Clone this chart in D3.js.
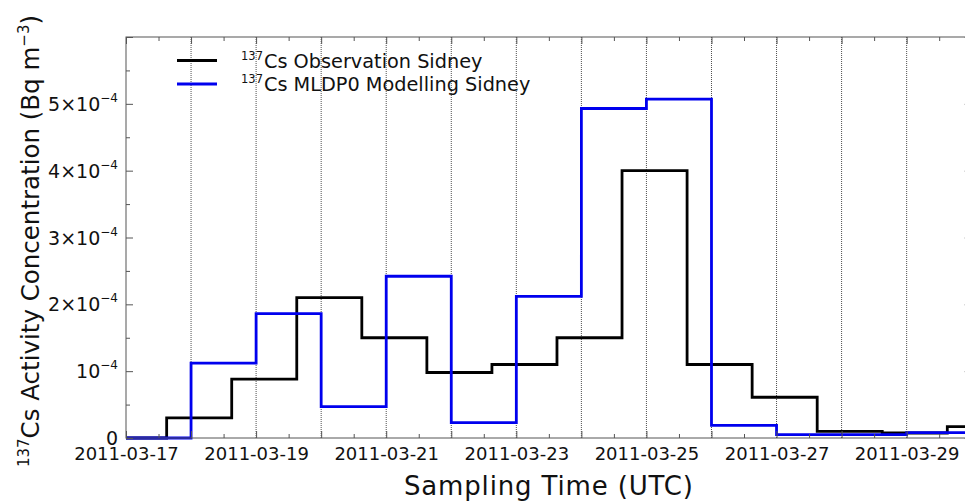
<!DOCTYPE html>
<html>
<head>
<meta charset="utf-8">
<script src="https://cdn.jsdelivr.net/npm/d3@7"></script>
<style>
  html, body { margin: 0; padding: 0; background: #fff; }
  svg { display: block; font-family: "DejaVu Sans", sans-serif; }
</style>
</head>
<body>
<svg id="chart" width="965" height="502"></svg>
<script>
// Observation sampling intervals (UTC), one value per interval, in Bq m^-3
const obsEdges = [
  "2011-03-16 15:00", "2011-03-17 15:00", "2011-03-18 15:00", "2011-03-19 15:00",
  "2011-03-20 15:00", "2011-03-21 15:00", "2011-03-22 15:00", "2011-03-23 15:00",
  "2011-03-24 15:00", "2011-03-25 15:00", "2011-03-26 15:00", "2011-03-27 15:00",
  "2011-03-28 15:00", "2011-03-29 15:00", "2011-03-30 15:00"
];
const obsValues = [
  0, 0.30e-4, 0.88e-4, 2.10e-4, 1.50e-4, 0.98e-4, 1.10e-4,
  1.50e-4, 4.00e-4, 1.10e-4, 0.61e-4, 0.10e-4, 0.075e-4, 0.17e-4
];

// MLDP0 model daily averages
const modelEdges = [
  "2011-03-17 00:00", "2011-03-18 00:00", "2011-03-19 00:00", "2011-03-20 00:00",
  "2011-03-21 00:00", "2011-03-22 00:00", "2011-03-23 00:00", "2011-03-24 00:00",
  "2011-03-25 00:00", "2011-03-26 00:00", "2011-03-27 00:00", "2011-03-28 00:00",
  "2011-03-29 00:00", "2011-03-30 00:00"
];
const modelValues = [
  0, 1.12e-4, 1.86e-4, 0.47e-4, 2.42e-4, 0.23e-4, 2.12e-4,
  4.93e-4, 5.07e-4, 0.19e-4, 0.05e-4, 0.05e-4, 0.08e-4
];

const xDomain = ["2011-03-17 00:00", "2011-03-30 00:00"];
const yMax = 6e-4;
const yMajorTicks = [0, 1e-4, 2e-4, 3e-4, 4e-4, 5e-4, 6e-4];
const yTickLabels = [
  { base: "0", exp: null },
  { base: "10", exp: "\u22124" },
  { base: "2\u00d710", exp: "\u22124" },
  { base: "3\u00d710", exp: "\u22124" },
  { base: "4\u00d710", exp: "\u22124" },
  { base: "5\u00d710", exp: "\u22124" },
  null
];

const series = [
  { name: "Cs Observation Sidney", edges: obsEdges, values: obsValues, color: "#000000" },
  { name: "Cs MLDP0 Modelling Sidney", edges: modelEdges, values: modelValues, color: "#0000ee" }
];

const parse = d3.utcParse("%Y-%m-%d %H:%M");
const svg = d3.select("#chart");
const margin = { left: 126, top: 37, right: 971.7, bottom: 438 };

const x = d3.scaleUtc()
  .domain(xDomain.map(parse))
  .range([margin.left, margin.right]);
const y = d3.scaleLinear()
  .domain([0, yMax])
  .range([margin.bottom, margin.top]);

const axisColor = "#555";

// clip region for the data lines
svg.append("defs").append("clipPath").attr("id", "plotClip")
  .append("rect")
  .attr("x", margin.left).attr("y", margin.top - 3)
  .attr("width", margin.right - margin.left)
  .attr("height", margin.bottom - margin.top + 6);

// daily vertical dotted grid
const days = d3.utcDay.range(x.domain()[0], x.domain()[1]).slice(1);
svg.append("g").selectAll("line").data(days).join("line")
  .attr("x1", d => x(d)).attr("x2", d => x(d))
  .attr("y1", margin.top).attr("y2", margin.bottom)
  .attr("stroke", "#222").attr("stroke-width", 0.8)
  .attr("stroke-dasharray", "1,1");

// step lines
const stepLine = d3.line()
  .x(d => x(d[0])).y(d => y(d[1]))
  .curve(d3.curveStepAfter);

const lines = svg.append("g").attr("clip-path", "url(#plotClip)");
series.forEach(s => {
  const times = s.edges.map(parse);
  const pts = s.values.map((v, i) => [times[i], v]);
  pts.push([times[times.length - 1], s.values[s.values.length - 1]]);
  lines.append("path")
    .attr("d", stepLine(pts))
    .attr("fill", "none")
    .attr("stroke", s.color)
    .attr("stroke-width", 2.8)
    .attr("stroke-linejoin", "miter");
});

// frame
svg.append("rect")
  .attr("x", margin.left).attr("y", margin.top)
  .attr("width", margin.right - margin.left)
  .attr("height", margin.bottom - margin.top)
  .attr("fill", "none").attr("stroke", axisColor).attr("stroke-width", 1);

// x ticks: bottom axis with labels on odd days, mirrored on top
const halfDays = d3.utcHour.every(12).range(x.domain()[0], x.domain()[1]);
const isMajor = d => d.getUTCHours() === 0;
const labelFmt = d3.utcFormat("%Y-%m-%d");

const xBottom = d3.axisBottom(x)
  .tickValues(halfDays)
  .tickSizeInner(0).tickSizeOuter(0)
  .tickFormat(d => (isMajor(d) && (d.getUTCDate() % 2 === 1)) ? labelFmt(d) : "");
const gxb = svg.append("g").attr("transform", `translate(0,${margin.bottom})`).call(xBottom);
gxb.attr("font-family", null).attr("font-size", null);
gxb.select(".domain").remove();
gxb.selectAll(".tick line")
  .attr("y2", d => isMajor(d) ? -7 : -4)
  .attr("stroke", axisColor);
gxb.selectAll(".tick text")
  .attr("y", 22)
  .attr("dy", 0)
  .attr("font-size", 18)
  .attr("font-family", "DejaVu Sans, sans-serif")
  .attr("fill", "#111");

const xTop = d3.axisTop(x).tickValues(halfDays).tickSizeInner(0).tickSizeOuter(0).tickFormat("");
const gxt = svg.append("g").attr("transform", `translate(0,${margin.top})`).call(xTop);
gxt.select(".domain").remove();
gxt.selectAll(".tick line")
  .attr("y2", d => isMajor(d) ? 7 : 4)
  .attr("stroke", axisColor);

// y ticks: left with labels, mirrored on right
const yMinor = d3.range(0.5e-4, yMax, 1e-4);
const yAll = yMajorTicks.concat(yMinor);
const majorSet = new Set(yMajorTicks);

const yLeft = d3.axisLeft(y).tickValues(yAll).tickSizeInner(0).tickSizeOuter(0).tickFormat("");
const gyl = svg.append("g").attr("transform", `translate(${margin.left},0)`).call(yLeft);
gyl.select(".domain").remove();
gyl.selectAll(".tick line")
  .attr("x2", d => majorSet.has(d) ? 7 : 4)
  .attr("stroke", axisColor);

const yRight = d3.axisRight(y).tickValues(yAll).tickSizeInner(0).tickSizeOuter(0).tickFormat("");
const gyr = svg.append("g").attr("transform", `translate(${margin.right},0)`).call(yRight);
gyr.select(".domain").remove();
gyr.selectAll(".tick line")
  .attr("x2", d => majorSet.has(d) ? -7 : -4)
  .attr("stroke", axisColor);

// y tick labels with exponent superscripts
const yLabels = svg.append("g");
yMajorTicks.forEach((v, i) => {
  const lab = yTickLabels[i];
  if (!lab) return;
  const t = yLabels.append("text")
    .attr("x", margin.left - 8)
    .attr("y", y(v) + 7)
    .attr("text-anchor", "end")
    .attr("font-size", 19)
    .attr("fill", "#111");
  t.append("tspan").text(lab.base);
  if (lab.exp) {
    t.append("tspan").attr("dy", -9).attr("font-size", 12).text(lab.exp);
  }
});

// axis titles
const yTitle = svg.append("text")
  .attr("transform", `translate(38.5,${(margin.top + margin.bottom) / 2 + 3.5}) rotate(-90)`)
  .attr("text-anchor", "middle")
  .attr("font-size", 24.5)
  .attr("fill", "#111");
yTitle.append("tspan").attr("font-size", 15).attr("dy", -10).text("137");
yTitle.append("tspan").attr("dy", 10).text("Cs Activity Concentration (Bq m");
yTitle.append("tspan").attr("font-size", 15).attr("dy", -10).text("\u22123");
yTitle.append("tspan").attr("dy", 10).text(")");

svg.append("text")
  .attr("x", (margin.left + margin.right) / 2)
  .attr("y", 495)
  .attr("text-anchor", "middle")
  .attr("font-size", 26)
  .attr("letter-spacing", 0.85)
  .attr("fill", "#111")
  .text("Sampling Time (UTC)");

// legend
const legend = svg.append("g");
series.forEach((s, i) => {
  const ly = 60.5 + i * 23.5;
  legend.append("line")
    .attr("x1", 177).attr("x2", 217)
    .attr("y1", ly).attr("y2", ly)
    .attr("stroke", s.color).attr("stroke-width", 2.8);
  const t = legend.append("text")
    .attr("x", 241).attr("y", ly + 7)
    .attr("font-size", 19.3)
    .attr("fill", "#111");
  t.append("tspan").attr("font-size", 11.5).attr("dy", -8).text("137");
  t.append("tspan").attr("dy", 8).attr("dx", 1).text(s.name);
});
</script>
</body>
</html>
